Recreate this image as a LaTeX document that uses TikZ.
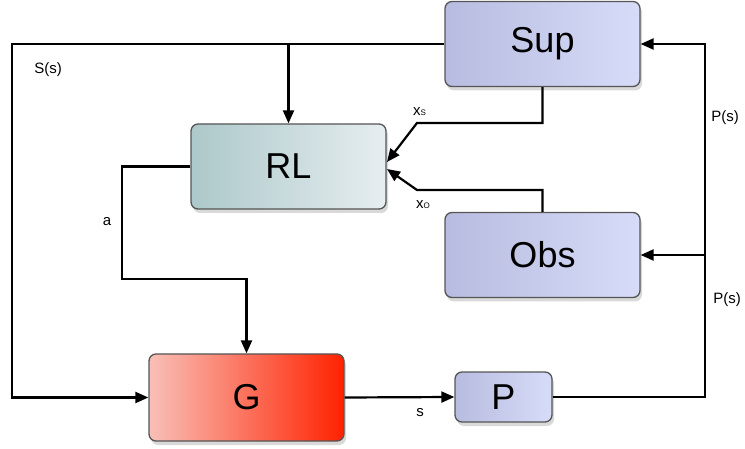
\documentclass[tikz,border=0pt]{standalone}
\usepackage{fontspec}
\setmainfont{Liberation Sans}
\usetikzlibrary{arrows.meta,shadows}
\definecolor{bluL}{HTML}{B8BCE0}
\definecolor{bluR}{HTML}{D6DCF8}
\definecolor{rlL}{HTML}{ADC8CA}
\definecolor{rlR}{HTML}{E6EEF0}
\definecolor{gL}{HTML}{F8C0B8}
\definecolor{gR}{HTML}{FF2200}
\definecolor{edge}{HTML}{555555}
\begin{document}
\begin{tikzpicture}[x=1pt,y=-1pt,
  blk/.style={draw=edge,line width=1.3pt,rounded corners=7pt,inner sep=0pt,
    font=\fontsize{36}{36}\selectfont,
    drop shadow={opacity=0.3,shadow xshift=2pt,shadow yshift=-4pt}},
  bigblk/.style={blk,minimum width=195pt,minimum height=85pt},
  bluebox/.style={left color=bluL,right color=bluR},
  wire/.style={line width=2.2pt,black},
  arr/.style={-{Triangle[length=13pt,width=11pt]}},
  lbl/.style={font=\fontsize{15}{15}\selectfont,inner sep=0pt}]
\useasboundingbox (0,0) rectangle (745,449);
\node[bigblk,bluebox] (Sup) at (542.5,44) {Sup};
\node[bigblk,left color=rlL,right color=rlR] (RL) at (288.5,166.5) {RL};
\node[bigblk,bluebox] (Obs) at (542.5,255) {Obs};
\node[bigblk,left color=gL,right color=gR,minimum height=87pt] (G) at (246.5,397.5) {G};
\node[blk,bluebox,minimum width=97pt,minimum height=50pt] (P) at (503.5,397) {P};

\coordinate (sl) at (12,44);
\coordinate (sb) at (288.5,44);
\draw[wire,arr] (Sup.west) -- (sl) |- (G.west);
\draw[wire,arr] (sb) -- (RL.north);

\coordinate (xsk) at (417,123);
\coordinate (xst) at (387,162);
\draw[wire,arr] (Sup.south) |- (xsk) -- (xst);
\coordinate (xok) at (417,190);
\coordinate (xot) at (387,169);
\draw[wire,arr] (Obs.north) |- (xok) -- (xot);

\coordinate (ak) at (122,166.5);
\coordinate (ab) at (246.5,279);
\draw[wire,arr] (RL.west) -- (ak) |- (ab) -- (G.north);

\draw[wire,arr] (G.east) -- (P.west);

\coordinate (pr) at (705,397);
\coordinate (pj) at (705,255);
\draw[wire,arr] (P.east) -- (pr) |- (Sup.east);
\draw[wire,arr] (pj) -- (Obs.east);

\node[lbl] (lS) at (48,70) {S(s)};
\node[lbl] (lP1) at (725,118) {P(s)};
\node[lbl] (lP2) at (727,300) {P(s)};
\node[lbl] (la) at (107,222) {a};
\node[lbl] (ls) at (420,413) {s};
\node[lbl,anchor=base west] (lxs) at (413,116) {x{\fontsize{8}{8}\selectfont S}};
\node[lbl,anchor=base west] (lxo) at (416,209) {x{\fontsize{8}{8}\selectfont O}};
\end{tikzpicture}
\end{document}
